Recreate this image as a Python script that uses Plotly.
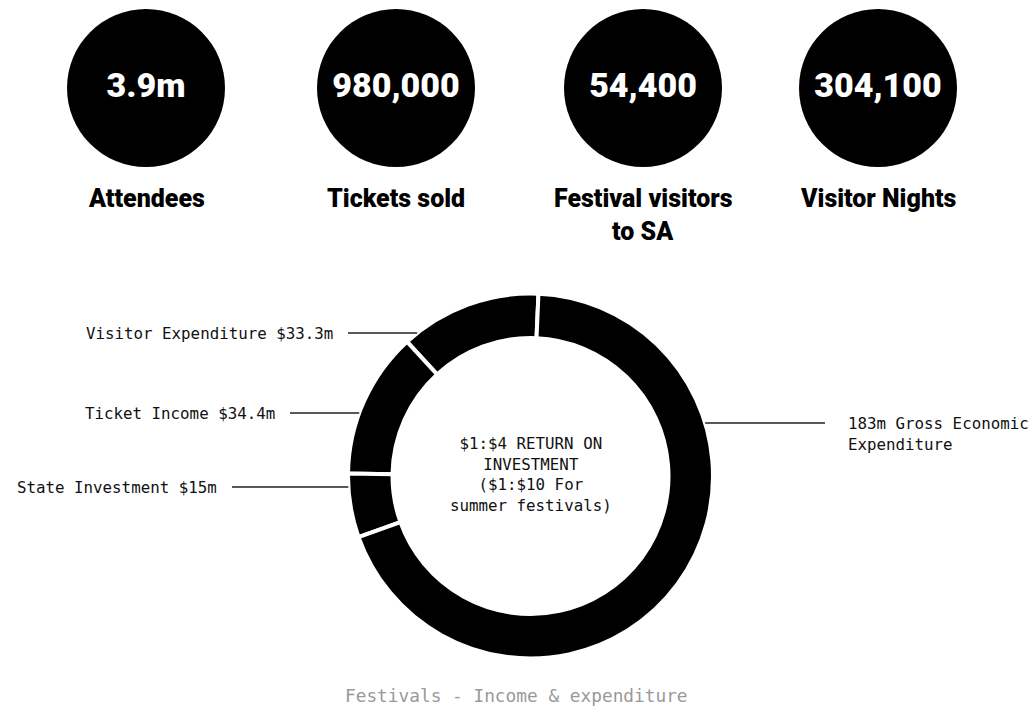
import math
import plotly.graph_objects as go

# ---- data -------------------------------------------------------------
kpi_values = ["3.9m", "980,000", "54,400", "304,100"]
kpi_labels = ["Attendees", "Tickets sold", "Festival visitors\nto SA", "Visitor Nights"]

flow_labels = ["Visitor Expenditure", "Ticket Income", "State Investment",
               "Gross Economic Expenditure"]
flow_values = [33.3, 34.4, 15, 183]          # $ millions
flow_text = ["Visitor Expenditure $33.3m", "Ticket Income $34.4m",
             "State Investment $15m", "183m Gross Economic<br>Expenditure"]

center_note = "$1:$4 RETURN ON<br>INVESTMENT<br>($1:$10 For<br>summer festivals)"
caption = "Festivals - Income & expenditure"

# ---- layout constants (pixels) ---------------------------------------
W, H = 1034, 708
badge_x = [146, 396, 643, 878]
badge_y = 88
badge_d = 158
label_y = 198
label_step = 33

ring_cx, ring_cy, ring_r = 530.5, 476, 182.5
ring_inner = 138
left_label_y = [333, 413, 487]
left_line_x0 = [348, 290, 232]
right_label_y = 423
right_line_x1 = 825

# first (visitor) slice begins just right of 12 o'clock and runs anticlockwise;
# in anticlockwise mode plotly anchors the far edge of the first slice at `rotation`
start_cw = 2.5
first_span = 360 * flow_values[0] / sum(flow_values)
ring_rotation = start_cw - first_span

HEAD = "Roboto, Liberation Sans Narrow, Arial Narrow, sans-serif"
MONO = "DejaVu Sans Mono, Liberation Mono, monospace"

fig = go.Figure()

# headline badges
fig.add_trace(go.Scatter(
    x=badge_x, y=[badge_y] * len(kpi_values),
    mode="markers+text",
    text=kpi_values,
    textposition="middle center",
    textfont=dict(family=HEAD, size=34, color="white", weight=900),
    marker=dict(size=badge_d, color="black", line=dict(width=0)),
    hoverinfo="skip", showlegend=False,
))

annotations = []
for x, lab in zip(badge_x, kpi_labels):
    for i, line in enumerate(lab.split("\n")):
        annotations.append(dict(
            x=x, y=label_y + i * label_step, xref="x", yref="y",
            text=line, showarrow=False,
            xanchor="center", yanchor="middle",
            font=dict(family=HEAD, size=25, color="black", weight=900),
        ))

# income / expenditure ring
fig.add_trace(go.Pie(
    labels=flow_labels, values=flow_values,
    hole=ring_inner / ring_r,
    sort=False, direction="counterclockwise", rotation=ring_rotation,
    marker=dict(colors=["black"] * len(flow_values),
                line=dict(color="white", width=4)),
    textinfo="none", hoverinfo="skip", showlegend=False,
    domain=dict(x=[(ring_cx - ring_r) / W, (ring_cx + ring_r) / W],
                y=[(H - ring_cy - ring_r) / H, (H - ring_cy + ring_r) / H]),
))


def ring_edge(y, side):
    dy = y - ring_cy
    return ring_cx + side * math.sqrt(ring_r ** 2 - dy ** 2)


shapes = []
for txt, y, x0 in zip(flow_text[:3], left_label_y, left_line_x0):
    shapes.append(dict(type="line", xref="x", yref="y",
                       x0=x0, x1=ring_edge(y, -1), y0=y, y1=y,
                       line=dict(color="#222222", width=1.3)))
    annotations.append(dict(
        x=x0 - 13, y=y, xref="x", yref="y", text=txt, showarrow=False,
        xanchor="right", yanchor="middle",
        font=dict(family=MONO, size=15.8, color="#111111"),
    ))

shapes.append(dict(type="line", xref="x", yref="y",
                   x0=ring_edge(right_label_y, 1), x1=right_line_x1,
                   y0=right_label_y, y1=right_label_y,
                   line=dict(color="#222222", width=1.3)))
annotations.append(dict(
    x=right_line_x1 + 21, y=right_label_y - 11, xref="x", yref="y",
    text=flow_text[3], showarrow=False, align="left",
    xanchor="left", yanchor="top",
    font=dict(family=MONO, size=15.8, color="#111111"),
))

annotations.append(dict(
    x=ring_cx, y=ring_cy - 2, xref="x", yref="y", text=center_note,
    showarrow=False, align="center", xanchor="center", yanchor="middle",
    font=dict(family=MONO, size=15.8, color="#111111"),
))

annotations.append(dict(
    x=516, y=695, xref="x", yref="y", text=caption, showarrow=False,
    xanchor="center", yanchor="middle",
    font=dict(family=MONO, size=17.8, color="#999999"),
))

fig.update_layout(
    width=W, height=H, autosize=False,
    margin=dict(l=0, r=0, t=0, b=0),
    paper_bgcolor="white", plot_bgcolor="white",
    xaxis=dict(range=[0, W], visible=False, fixedrange=True, domain=[0, 1]),
    yaxis=dict(range=[H, 0], visible=False, fixedrange=True, domain=[0, 1]),
    shapes=shapes, annotations=annotations,
    showlegend=False,
)

fig.write_html("out.html", config={"displayModeBar": False})
